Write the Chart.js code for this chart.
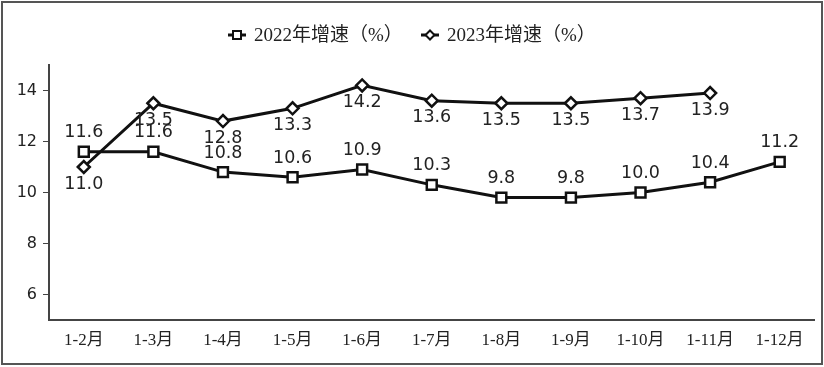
<!DOCTYPE html>
<html>
<head>
<meta charset="utf-8">
<script src="https://cdn.jsdelivr.net/npm/chart.js@4.4.0/dist/chart.umd.min.js"></script>
<style>
  html, body { margin: 0; padding: 0; background: #fff; }
  #wrap { width: 824px; height: 367px; position: relative; }
</style>
</head>
<body>
<div id="wrap"><canvas id="growthChart"></canvas></div>
<script>
// ---------------- data ----------------
const months = ['1-2月', '1-3月', '1-4月', '1-5月', '1-6月', '1-7月', '1-8月', '1-9月', '1-10月', '1-11月', '1-12月'];
const growth2022 = [11.6, 11.6, 10.8, 10.6, 10.9, 10.3, 9.8, 9.8, 10.0, 10.4, 11.2];
const growth2023 = [11.0, 13.5, 12.8, 13.3, 14.2, 13.6, 13.5, 13.5, 13.7, 13.9, null];
const yTicks = [6, 8, 10, 12, 14];
const seriesNames = ['2022年增速（%）', '2023年增速（%）'];

const INK = '#111';
const SERIF = '"Liberation Serif", "Noto Sans CJK SC", serif';
const SANS = '"DejaVu Sans", sans-serif';

// draws value labels, legend and the frame
const decorPlugin = {
    id: 'decor',
    afterDatasetsDraw(chart) {
        const ctx = chart.ctx;
        ctx.save();
        ctx.font = '17.5px ' + SANS;
        ctx.fillStyle = '#222';
        ctx.textAlign = 'center';
        ctx.textBaseline = 'middle';
        // 2022 above the points, 2023 below
        chart.getDatasetMeta(0).data.forEach((pt, i) => {
            ctx.fillText(growth2022[i].toFixed(1), pt.x, pt.y - 19);
        });
        chart.getDatasetMeta(1).data.forEach((pt, i) => {
            if (growth2023[i] == null) return;
            ctx.fillText(growth2023[i].toFixed(1), pt.x, pt.y + 17);
        });
        ctx.restore();
    },
    afterDraw(chart) {
        const ctx = chart.ctx;
        ctx.save();
        // legend
        ctx.font = '19px ' + SERIF;
        ctx.textBaseline = 'middle';
        const y = 35;
        const items = [
            { x: 228, name: seriesNames[0], style: 'rect' },
            { x: 421, name: seriesNames[1], style: 'diamond' }
        ];
        items.forEach(it => {
            ctx.strokeStyle = INK;
            ctx.lineWidth = 3;
            ctx.beginPath();
            ctx.moveTo(it.x, y);
            ctx.lineTo(it.x + 18, y);
            ctx.stroke();
            ctx.fillStyle = '#fff';
            ctx.lineWidth = 2;
            const cx = it.x + 9;
            ctx.beginPath();
            if (it.style === 'rect') {
                ctx.rect(cx - 4, y - 4, 8, 8);
            } else {
                ctx.moveTo(cx, y - 4.5);
                ctx.lineTo(cx + 4.5, y);
                ctx.lineTo(cx, y + 4.5);
                ctx.lineTo(cx - 4.5, y);
                ctx.closePath();
            }
            ctx.fill();
            ctx.stroke();
            ctx.fillStyle = '#222';
            ctx.fillText(it.name, it.x + 26, y + 1);
        });
        // outer frame
        ctx.strokeStyle = '#555';
        ctx.lineWidth = 2;
        ctx.strokeRect(2, 2, 820, 362);
        ctx.restore();
    }
};

const ctx = document.getElementById('growthChart');
new Chart(ctx, {
    type: 'line',
    data: {
        labels: months,
        datasets: [{
            label: seriesNames[0],
            data: growth2022,
            borderColor: INK,
            borderWidth: 3,
            pointStyle: 'rect',
            pointRadius: 7,
            pointBackgroundColor: '#fff',
            pointBorderColor: INK,
            pointBorderWidth: 2.5,
            tension: 0
        }, {
            label: seriesNames[1],
            data: growth2023,
            borderColor: INK,
            borderWidth: 3,
            pointStyle: 'rectRot',
            pointRadius: 6,
            pointBackgroundColor: '#fff',
            pointBorderColor: INK,
            pointBorderWidth: 2.5,
            tension: 0
        }]
    },
    options: {
        responsive: true,
        maintainAspectRatio: false,
        animation: false,
        layout: { padding: { top: 65, right: 9, left: 0, bottom: 0 } },
        plugins: {
            legend: { display: false },
            tooltip: { enabled: false }
        },
        scales: {
            x: {
                offset: true,
                grid: { display: false },
                border: { display: true, color: '#444', width: 2 },
                ticks: {
                    color: '#222',
                    font: { family: SERIF, size: 17 },
                    padding: 2,
                    maxRotation: 0,
                    autoSkip: false
                },
                afterFit: scale => { scale.height = 47; }
            },
            y: {
                min: 5,
                max: 15,
                afterBuildTicks: axis => { axis.ticks = yTicks.map(v => ({ value: v })); },
                grid: { display: true, drawOnChartArea: false, drawTicks: true, tickLength: 6, color: '#444', lineWidth: 1 },
                border: { display: true, color: '#444', width: 2 },
                ticks: {
                    color: '#222',
                    font: { family: SANS, size: 16 },
                    padding: 6
                },
                afterFit: scale => { scale.width = 49; }
            }
        }
    },
    plugins: [decorPlugin]
});
</script>
</body>
</html>
